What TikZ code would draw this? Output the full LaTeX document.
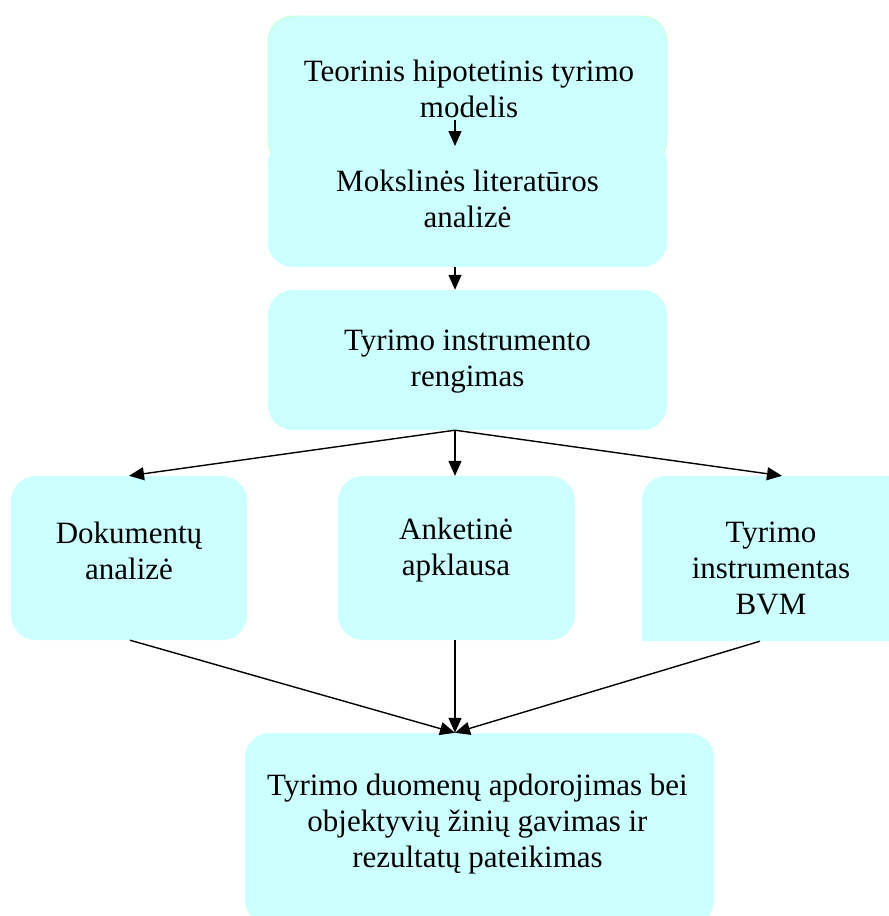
\documentclass[tikz,border=0pt]{standalone}
\usepackage{fontspec}
\setmainfont{Liberation Serif}
\usetikzlibrary{arrows.meta,calc}
\definecolor{boxcyan}{RGB}{204,255,255}
\definecolor{boxgreen}{RGB}{204,255,204}
\tikzset{
  box/.style={rectangle, rounded corners=25pt, fill=boxcyan, inner sep=0pt},
  label/.style={align=center, inner sep=0pt, font=\fontsize{31}{36}\selectfont},
  conn/.style={line width=1.4pt, -{Triangle[length=15pt,width=13pt]}},
}
\begin{document}
\begin{tikzpicture}[x=1pt,y=-1pt]
\useasboundingbox (0,0) rectangle (889,916);
\clip (0,0) rectangle (889,916);
% boxes
\node[box, draw=boxgreen, line width=0.8pt, minimum width=399pt, minimum height=150pt] (b1) at (467.5,91) {};
\node[box, minimum width=399pt, minimum height=129pt] (b2) at (467.5,202.5) {};
\node[box, minimum width=399pt, minimum height=140pt] (b3) at (467.5,360) {};
\node[box, minimum width=236pt, minimum height=164pt] (b4) at (129,558) {};
\node[box, minimum width=237pt, minimum height=164pt] (b5) at (456.5,558) {};
\node[rectangle, inner sep=0pt, minimum width=258pt, minimum height=165pt] (b6) at (771,558.5) {};
\fill[boxcyan] (b6.south west) -- ($(b6.north west)+(0,25)$) arc[start angle=180, end angle=270, radius=25] -- (b6.north east) -- (b6.south east) -- cycle;
\node[box, minimum width=469pt, minimum height=192pt] (b7) at (479.5,829) {};
% texts
\node[label] (t1) at (469,88.5) {Teorinis hipotetinis tyrimo\\modelis};
\node[label] (t2) at (467.5,198.5) {Mokslinės literatūros\\analizė};
\node[label] (t3) at (467.5,361.5) {Tyrimo instrumento\\rengimas};
\node[label] (t4) at (129,550.5) {Dokumentų\\analizė};
\node[label] (t5) at (456,550.5) {Anketinė\\apklausa};
\node[label] (t6) at (771,568) {Tyrimo\\instrumentas\\BVM};
\node[label] (t7) at (477.5,824) {Tyrimo duomenų apdorojimas bei\\objektyvių žinių gavimas ir\\rezultatų pateikimas};
% connectors
\coordinate (a1s) at (455,120);
\coordinate (a1e) at (455,146);
\draw[conn] (a1s) -- (a1e);
\draw[conn] ([xshift=-12.5pt]b2.south) -- ([xshift=-12.5pt]b3.north);
\draw[conn] ([xshift=-12.5pt]b3.south) -- (b4.north);
\draw[conn] ([xshift=-12.5pt]b3.south) -- ([xshift=-1.5pt]b5.north);
\draw[conn] ([xshift=-12.5pt]b3.south) -- ([xshift=11pt]b6.north);
\draw[conn] ([xshift=1pt]b4.south) -- ([xshift=-24.5pt]b7.north);
\draw[conn] ([xshift=-1.5pt]b5.south) -- ([xshift=-24.5pt]b7.north);
\draw[conn] ([xshift=-11pt]b6.south) -- ([xshift=-24.5pt]b7.north);
\end{tikzpicture}
\end{document}
